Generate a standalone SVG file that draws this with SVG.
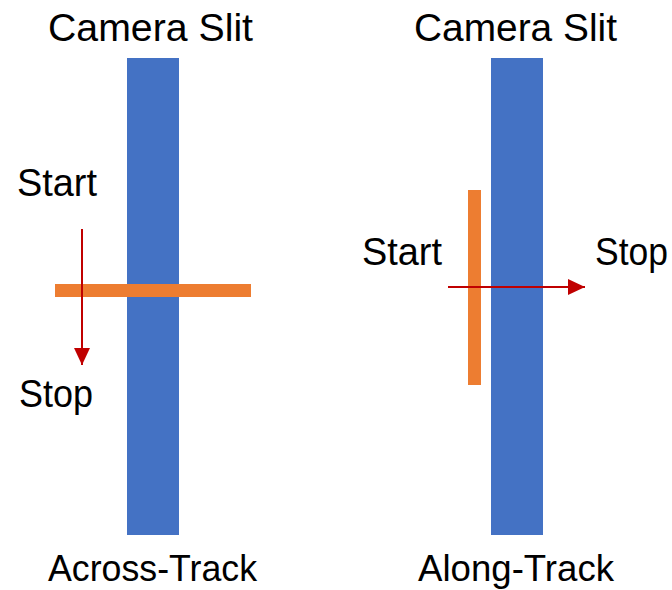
<svg xmlns="http://www.w3.org/2000/svg" width="672" height="590" viewBox="0 0 672 590">
  <style>
    .slit { fill: #4472C4; }
    .bar { fill: #ED7D31; }
    .lbl { font-family: "Liberation Sans", Arial, sans-serif; font-size: 38px; fill: #000; }
    .cap { font-size: 37px; }
    .arr { stroke: #C00000; stroke-width: 2; fill: none; marker-end: url(#ah); }
  </style>
  <defs>
    <marker id="ah" markerUnits="userSpaceOnUse" markerWidth="17" markerHeight="16" refX="17" refY="8" orient="auto">
      <path d="M0,0 L17,8 L0,16 Z" fill="#C00000"/>
    </marker>
  </defs>
  <rect width="672" height="590" fill="#fff"/>

  <g id="across-track">
    <g id="left-slit">
      <rect class="slit" x="127" y="58" width="52" height="477"/>
      <text class="lbl" x="48" y="41" textLength="205" lengthAdjust="spacingAndGlyphs">Camera Slit</text>
    </g>
    <g id="left-bar">
      <rect class="bar" x="55" y="284" width="196" height="13"/>
    </g>
    <g id="left-start"><text class="lbl" x="17" y="196" textLength="80" lengthAdjust="spacingAndGlyphs">Start</text></g>
    <g id="left-stop"><text class="lbl" x="19" y="407" textLength="74" lengthAdjust="spacingAndGlyphs">Stop</text></g>
    <g id="left-caption"><text class="lbl cap" x="48" y="581" textLength="209" lengthAdjust="spacingAndGlyphs">Across-Track</text></g>
  </g>

  <g id="along-track">
    <g id="right-slit">
      <rect class="slit" x="491" y="58" width="52" height="477"/>
      <text class="lbl" x="414" y="41" textLength="203" lengthAdjust="spacingAndGlyphs">Camera Slit</text>
    </g>
    <g id="right-bar">
      <rect class="bar" x="468" y="190" width="13" height="195"/>
    </g>
    <g id="right-start"><text class="lbl" x="362" y="265" textLength="80" lengthAdjust="spacingAndGlyphs">Start</text></g>
    <g id="right-stop"><text class="lbl" x="595" y="265" textLength="73" lengthAdjust="spacingAndGlyphs">Stop</text></g>
    <g id="right-caption"><text class="lbl cap" x="418" y="581" textLength="196" lengthAdjust="spacingAndGlyphs">Along-Track</text></g>
  </g>

  <g id="connectors">
    <line class="arr" x1="82" y1="229" x2="82" y2="365"/>
    <line class="arr" x1="448" y1="287" x2="585" y2="287"/>
  </g>
</svg>
